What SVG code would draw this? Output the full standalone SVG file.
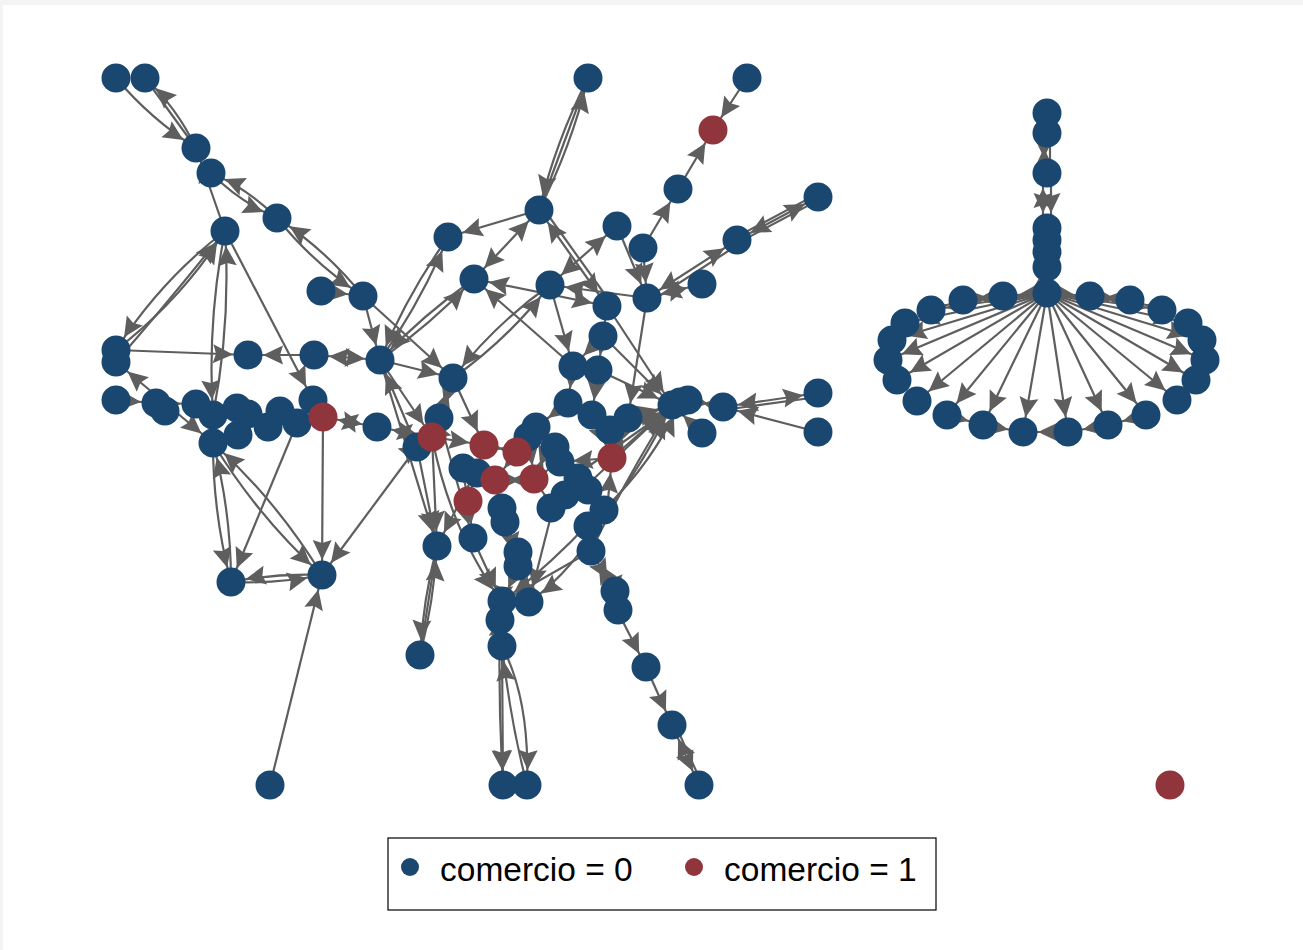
<svg xmlns="http://www.w3.org/2000/svg" width="1303" height="950" viewBox="0 0 1303 950">
<style>
.e,.d,.p{stroke:#5e5e5e;stroke-width:2.2;fill:none}
.e{marker-end:url(#ah)}
.d{marker-start:url(#ah);marker-end:url(#ah)}
.n0{fill:#1a476f}
.n1{fill:#90353b}
.lg{font-family:"Liberation Sans",Arial,sans-serif;font-size:33.5px;fill:#000}
</style>
<defs>
<marker id="ah" viewBox="-40 -12 42 24" refX="0" refY="0" markerWidth="42" markerHeight="24" markerUnits="userSpaceOnUse" orient="auto-start-reverse">
<path d="M-15,0 L-35,-9.5 L-32,0 L-35,9.5 Z" fill="#5e5e5e"/>
</marker>
</defs>
<rect x="0" y="0" width="1303" height="950" fill="#f4f4f4"/>
<rect x="3" y="5" width="1300" height="945" fill="#ffffff"/>

<!-- connectors -->
<g id="connectors">
<!-- west component -->
<path class="e" d="M116,78 Q150.7,119 196,148"/>
<path class="e" d="M196,148 Q177,108 145,78"/>
<line class="p" x1="145" y1="78" x2="196" y2="148"/>
<line class="e" x1="225" y1="231" x2="196" y2="148"/>
<path class="e" d="M211,173 Q239.5,202 277,218"/>
<path class="e" d="M277,218 Q248.5,189 211,173"/>
<path class="e" d="M277,218 Q314,264 363,296"/>
<path class="e" d="M363,296 Q326,250 277,218"/>
<line class="e" x1="321" y1="291" x2="363" y2="296"/>
<path class="e" d="M225,231 Q160,281 116,350"/>
<path class="e" d="M116,350 Q181,300 225,231"/>
<path class="e" d="M116,362 Q170,300 225,231"/>
<path class="e" d="M225,231 Q207,322 213,415"/>
<path class="e" d="M213,415 Q231,324 225,231"/>
<line class="e" x1="225" y1="231" x2="313" y2="400"/>
<line class="e" x1="116" y1="350" x2="248" y2="355"/>
<line class="e" x1="314" y1="355" x2="248" y2="355"/>
<line class="d" x1="314" y1="355" x2="380" y2="360"/>
<line class="e" x1="363" y1="296" x2="380" y2="360"/>
<line class="e" x1="363" y1="296" x2="453" y2="378"/>
<line class="e" x1="380" y1="360" x2="453" y2="378"/>
<line class="e" x1="116" y1="400" x2="156" y2="403"/>
<line class="e" x1="156" y1="403" x2="196" y2="404"/>
<line class="d" x1="116" y1="362" x2="213" y2="443"/>
<line class="d" x1="377" y1="427" x2="323" y2="417"/>
<line class="e" x1="323" y1="417" x2="322" y2="575"/>
<line class="e" x1="297" y1="423" x2="231" y2="582"/>
<path class="e" d="M213,443 Q213,514 231,582"/>
<path class="e" d="M231,582 Q231,511 213,443"/>
<path class="e" d="M213,443 Q258,517 322,575"/>
<path class="e" d="M322,575 Q277,501 213,443"/>
<path class="e" d="M231,582 Q277,584 322,575"/>
<path class="e" d="M322,575 Q276,573 231,582"/>
<line class="e" x1="417" y1="447" x2="322" y2="575"/>
<line class="e" x1="270" y1="785" x2="322" y2="575"/>
<line class="e" x1="417" y1="447" x2="380" y2="360"/>
<line class="d" x1="377" y1="427" x2="432" y2="437"/>
<line class="e" x1="380" y1="360" x2="432" y2="437"/>
<line class="e" x1="380" y1="360" x2="437" y2="546"/>
<path class="e" d="M380,360 Q421,302 448,237"/>
<path class="e" d="M448,237 Q407,295 380,360"/>
<path class="e" d="M380,360 Q431,324 474,279"/>
<path class="e" d="M474,279 Q423,315 380,360"/>

<!-- central component -->
<path class="e" d="M588,78 Q556,141 539,210"/>
<path class="e" d="M539,210 Q571,147 588,78"/>
<line class="p" x1="588" y1="78" x2="539" y2="210"/>
<line class="e" x1="747" y1="78" x2="713" y2="130"/>
<line class="e" x1="678" y1="189" x2="713" y2="130"/>
<line class="e" x1="643" y1="248" x2="678" y2="189"/>
<line class="e" x1="539" y1="210" x2="448" y2="237"/>
<line class="d" x1="539" y1="210" x2="474" y2="279"/>
<line class="d" x1="539" y1="210" x2="607" y2="306"/>
<line class="p" x1="543" y1="208" x2="611" y2="303"/>
<line class="d" x1="550" y1="285" x2="617" y2="226"/>
<line class="e" x1="647" y1="298" x2="550" y2="285"/>
<line class="e" x1="617" y1="226" x2="647" y2="298"/>
<line class="e" x1="643" y1="248" x2="647" y2="298"/>
<line class="d" x1="702" y1="284" x2="647" y2="298"/>
<line class="d" x1="737" y1="240" x2="647" y2="298"/>
<line class="p" x1="739" y1="244" x2="650" y2="302"/>
<line class="d" x1="737" y1="240" x2="818" y2="197"/>
<line class="p" x1="738.4" y1="242.6" x2="819.4" y2="199.6"/>
<line class="p" x1="735.6" y1="237.4" x2="816.6" y2="194.4"/>
<line class="d" x1="474" y1="279" x2="607" y2="306"/>
<line class="e" x1="573" y1="366" x2="474" y2="279"/>
<path class="e" d="M550,285 Q495,324 453,378"/>
<path class="e" d="M453,378 Q508,339 550,285"/>
<line class="e" x1="550" y1="285" x2="573" y2="366"/>
<line class="e" x1="607" y1="306" x2="603" y2="336"/>
<line class="e" x1="603" y1="336" x2="573" y2="366"/>
<line class="e" x1="603" y1="336" x2="598" y2="370"/>
<line class="e" x1="573" y1="366" x2="568" y2="403"/>
<line class="e" x1="598" y1="370" x2="592" y2="415"/>
<line class="e" x1="568" y1="403" x2="536" y2="427"/>
<line class="e" x1="592" y1="415" x2="612" y2="458"/>
<line class="d" x1="628" y1="418" x2="612" y2="458"/>
<line class="e" x1="647" y1="298" x2="628" y2="418"/>
<line class="e" x1="607" y1="306" x2="672" y2="405"/>
<line class="e" x1="603" y1="336" x2="672" y2="405"/>
<line class="e" x1="598" y1="370" x2="672" y2="405"/>
<line class="e" x1="628" y1="418" x2="672" y2="405"/>
<line class="e" x1="610" y1="428" x2="672" y2="405"/>
<line class="e" x1="612" y1="458" x2="672" y2="405"/>
<line class="e" x1="584" y1="488" x2="672" y2="405"/>
<line class="e" x1="572" y1="478" x2="680" y2="402"/>
<path class="e" d="M607,510 Q640,470 672,405"/>
<path class="e" d="M591,551 Q625,480 672,405"/>
<path class="e" d="M590,522 Q650,470 680,402"/>
<line class="d" x1="688" y1="400" x2="723" y2="407"/>
<line class="d" x1="723" y1="407" x2="818" y2="393"/>
<line class="p" x1="723" y1="410" x2="818" y2="397"/>
<line class="e" x1="818" y1="432" x2="723" y2="407"/>
<line class="e" x1="702" y1="433" x2="672" y2="405"/>
<line class="e" x1="453" y1="378" x2="439" y2="418"/>
<line class="e" x1="439" y1="418" x2="453" y2="378"/>
<line class="e" x1="453" y1="378" x2="484" y2="445"/>
<line class="d" x1="432" y1="437" x2="417" y2="447"/>
<line class="e" x1="432" y1="437" x2="484" y2="445"/>
<line class="d" x1="484" y1="445" x2="517" y2="452"/>
<line class="e" x1="517" y1="452" x2="495" y2="480"/>
<line class="d" x1="495" y1="480" x2="535" y2="480"/>
<line class="e" x1="484" y1="445" x2="468" y2="500"/>
<line class="e" x1="462" y1="467" x2="468" y2="500"/>
<line class="e" x1="536" y1="427" x2="517" y2="452"/>
<line class="e" x1="528" y1="440" x2="535" y2="480"/>
<line class="d" x1="535" y1="480" x2="548" y2="445"/>
<line class="e" x1="535" y1="480" x2="558" y2="462"/>
<line class="e" x1="612" y1="458" x2="558" y2="462"/>
<line class="e" x1="553" y1="508" x2="535" y2="480"/>
<line class="e" x1="607" y1="510" x2="612" y2="458"/>
<line class="e" x1="476" y1="471" x2="495" y2="480"/>
<line class="e" x1="500" y1="507" x2="495" y2="480"/>
<line class="e" x1="507" y1="520" x2="518" y2="567"/>
<line class="e" x1="500" y1="507" x2="517" y2="550"/>
<line class="e" x1="468" y1="500" x2="473" y2="539"/>
<line class="e" x1="476" y1="471" x2="437" y2="546"/>
<line class="e" x1="432" y1="437" x2="437" y2="546"/>
<line class="e" x1="417" y1="447" x2="437" y2="546"/>
<line class="e" x1="439" y1="418" x2="473" y2="539"/>
<path class="e" d="M432,437 Q450,530 502,602"/>
<line class="e" x1="473" y1="539" x2="502" y2="602"/>
<line class="e" x1="591" y1="551" x2="502" y2="602"/>
<path class="e" d="M590,522 Q550,565 502,602"/>
<path class="e" d="M607,510 Q575,570 529,602"/>
<line class="e" x1="553" y1="508" x2="529" y2="602"/>
<line class="e" x1="518" y1="567" x2="502" y2="602"/>
<line class="d" x1="502" y1="602" x2="500" y2="620"/>
<line class="e" x1="500" y1="620" x2="502" y2="646"/>
<path class="e" d="M437,546 Q423,600 420,655"/>
<path class="e" d="M420,655 Q434,601 437,546"/>
<line class="p" x1="437" y1="546" x2="420" y2="655"/>
<path class="e" d="M500,620 Q498,700 503,785"/>
<line class="e" x1="502" y1="646" x2="503" y2="785"/>
<path class="e" d="M502,646 Q530,700 527,785"/>
<path class="e" d="M527,785 Q510,720 502,646"/>
<line class="d" x1="591" y1="551" x2="615" y2="592"/>
<line class="e" x1="590" y1="522" x2="591" y2="551"/>
<line class="e" x1="584" y1="488" x2="607" y2="510"/>
<line class="e" x1="615" y1="592" x2="617" y2="610"/>
<line class="e" x1="617" y1="610" x2="646" y2="667"/>
<line class="e" x1="646" y1="667" x2="672" y2="725"/>
<line class="d" x1="672" y1="725" x2="699" y2="785"/>
<line class="p" x1="675" y1="724" x2="702" y2="784"/>

<!-- eastern star component -->
<line class="p" x1="1047" y1="113" x2="1047" y2="133"/>
<line class="d" x1="1044" y1="133" x2="1044" y2="173"/>
<line class="p" x1="1050" y1="133" x2="1050" y2="173"/>
<line class="d" x1="1043" y1="173" x2="1043" y2="228"/>
<line class="e" x1="1051" y1="173" x2="1051" y2="228"/>
<line class="p" x1="1047" y1="228" x2="1047" y2="252"/>
<line class="d" x1="1044" y1="252" x2="1044" y2="293"/>
<line class="e" x1="1050" y1="267" x2="1050" y2="293"/>
<line class="e" x1="1047" y1="293" x2="1003" y2="296"/>
<line class="e" x1="1047" y1="293" x2="963" y2="300"/>
<line class="e" x1="1047" y1="293" x2="931" y2="310"/>
<line class="e" x1="1047" y1="293" x2="905" y2="323"/>
<line class="e" x1="1047" y1="293" x2="892" y2="340"/>
<line class="e" x1="1047" y1="293" x2="888" y2="360"/>
<line class="e" x1="1047" y1="293" x2="897" y2="380"/>
<line class="e" x1="1047" y1="293" x2="917" y2="401"/>
<line class="e" x1="1047" y1="293" x2="947" y2="415"/>
<line class="e" x1="1047" y1="293" x2="983" y2="425"/>
<line class="e" x1="1047" y1="293" x2="1023" y2="432"/>
<line class="e" x1="1047" y1="293" x2="1068" y2="432"/>
<line class="e" x1="1047" y1="293" x2="1108" y2="425"/>
<line class="e" x1="1047" y1="293" x2="1146" y2="415"/>
<line class="e" x1="1047" y1="293" x2="1177" y2="400"/>
<line class="e" x1="1047" y1="293" x2="1196" y2="380"/>
<line class="e" x1="1047" y1="293" x2="1205" y2="360"/>
<line class="e" x1="1047" y1="293" x2="1202" y2="340"/>
<line class="e" x1="1047" y1="293" x2="1188" y2="323"/>
<line class="e" x1="1047" y1="293" x2="1162" y2="310"/>
<line class="e" x1="1047" y1="293" x2="1130" y2="300"/>
<line class="e" x1="1047" y1="293" x2="1090" y2="296"/>
<line class="e" x1="963" y1="300" x2="1003" y2="296"/>
<line class="e" x1="931" y1="310" x2="963" y2="300"/>
<line class="e" x1="1130" y1="300" x2="1090" y2="296"/>
<line class="e" x1="1162" y1="310" x2="1130" y2="300"/>
<line class="e" x1="983" y1="425" x2="1023" y2="432"/>
<line class="e" x1="1068" y1="432" x2="1023" y2="432"/>
<line class="e" x1="1108" y1="425" x2="1068" y2="432"/>
<line class="e" x1="947" y1="415" x2="983" y2="425"/>
<line class="e" x1="1146" y1="415" x2="1108" y2="425"/>
</g>

<!-- west component nodes -->
<g id="node-w01"><circle class="n0" cx="116" cy="78" r="14.5"/></g>
<g id="node-w02"><circle class="n0" cx="145" cy="78" r="14.5"/></g>
<g id="node-w03"><circle class="n0" cx="196" cy="148" r="14.5"/></g>
<g id="node-w04"><circle class="n0" cx="211" cy="173" r="14.5"/></g>
<g id="node-w05"><circle class="n0" cx="277" cy="218" r="14.5"/></g>
<g id="node-w06"><circle class="n0" cx="225" cy="231" r="14.5"/></g>
<g id="node-w07"><circle class="n0" cx="321" cy="291" r="14.5"/></g>
<g id="node-w08"><circle class="n0" cx="363" cy="296" r="14.5"/></g>
<g id="node-w09"><circle class="n0" cx="116" cy="350" r="14.5"/></g>
<g id="node-w10"><circle class="n0" cx="116" cy="362" r="14.5"/></g>
<g id="node-w11"><circle class="n0" cx="248" cy="355" r="14.5"/></g>
<g id="node-w12"><circle class="n0" cx="314" cy="355" r="14.5"/></g>
<g id="node-w13"><circle class="n0" cx="380" cy="360" r="14.5"/></g>
<g id="node-w14"><circle class="n0" cx="116" cy="400" r="14.5"/></g>
<g id="node-w15"><circle class="n0" cx="156" cy="403" r="14.5"/></g>
<g id="node-w16"><circle class="n0" cx="165" cy="411" r="14.5"/></g>
<g id="node-w17"><circle class="n0" cx="196" cy="404" r="14.5"/></g>
<g id="node-w18"><circle class="n0" cx="213" cy="415" r="14.5"/></g>
<g id="node-w19"><circle class="n0" cx="213" cy="443" r="14.5"/></g>
<g id="node-w20"><circle class="n0" cx="237" cy="408" r="14.5"/></g>
<g id="node-w21"><circle class="n0" cx="238" cy="435" r="14.5"/></g>
<g id="node-w22"><circle class="n0" cx="248" cy="414" r="14.5"/></g>
<g id="node-w23"><circle class="n0" cx="268" cy="427" r="14.5"/></g>
<g id="node-w24"><circle class="n0" cx="280" cy="411" r="14.5"/></g>
<g id="node-w25"><circle class="n0" cx="297" cy="423" r="14.5"/></g>
<g id="node-w26"><circle class="n0" cx="313" cy="400" r="14.5"/></g>
<g id="node-w27"><circle class="n1" cx="323" cy="417" r="14.5"/></g>
<g id="node-w28"><circle class="n0" cx="377" cy="427" r="14.5"/></g>
<g id="node-w29"><circle class="n0" cx="231" cy="582" r="14.5"/></g>
<g id="node-w30"><circle class="n0" cx="322" cy="575" r="14.5"/></g>
<g id="node-w31"><circle class="n0" cx="270" cy="785" r="14.5"/></g>

<!-- central component nodes -->
<g id="node-c01"><circle class="n0" cx="588" cy="78" r="14.5"/></g>
<g id="node-c02"><circle class="n1" cx="713" cy="130" r="14.5"/></g>
<g id="node-c03"><circle class="n0" cx="747" cy="78" r="14.5"/></g>
<g id="node-c04"><circle class="n0" cx="539" cy="210" r="14.5"/></g>
<g id="node-c05"><circle class="n0" cx="448" cy="237" r="14.5"/></g>
<g id="node-c06"><circle class="n0" cx="474" cy="279" r="14.5"/></g>
<g id="node-c07"><circle class="n0" cx="617" cy="226" r="14.5"/></g>
<g id="node-c08"><circle class="n0" cx="643" cy="248" r="14.5"/></g>
<g id="node-c09"><circle class="n0" cx="678" cy="189" r="14.5"/></g>
<g id="node-c10"><circle class="n0" cx="550" cy="285" r="14.5"/></g>
<g id="node-c11"><circle class="n0" cx="647" cy="298" r="14.5"/></g>
<g id="node-c12"><circle class="n0" cx="702" cy="284" r="14.5"/></g>
<g id="node-c13"><circle class="n0" cx="607" cy="306" r="14.5"/></g>
<g id="node-c14"><circle class="n0" cx="737" cy="240" r="14.5"/></g>
<g id="node-c15"><circle class="n0" cx="818" cy="197" r="14.5"/></g>
<g id="node-c16"><circle class="n0" cx="603" cy="336" r="14.5"/></g>
<g id="node-c17"><circle class="n0" cx="573" cy="366" r="14.5"/></g>
<g id="node-c18"><circle class="n0" cx="598" cy="370" r="14.5"/></g>
<g id="node-c19"><circle class="n0" cx="453" cy="378" r="14.5"/></g>
<g id="node-c20"><circle class="n0" cx="439" cy="418" r="14.5"/></g>
<g id="node-c21"><circle class="n0" cx="417" cy="447" r="14.5"/></g>
<g id="node-c22"><circle class="n1" cx="432" cy="437" r="14.5"/></g>
<g id="node-c23"><circle class="n0" cx="568" cy="403" r="14.5"/></g>
<g id="node-c24"><circle class="n0" cx="592" cy="415" r="14.5"/></g>
<g id="node-c25"><circle class="n0" cx="628" cy="418" r="14.5"/></g>
<g id="node-c26"><circle class="n0" cx="610" cy="430" r="14.5"/></g>
<g id="node-c27"><circle class="n0" cx="536" cy="427" r="14.5"/></g>
<g id="node-c28"><circle class="n0" cx="528" cy="437" r="14.5"/></g>
<g id="node-c29"><circle class="n0" cx="555" cy="447" r="14.5"/></g>
<g id="node-c30"><circle class="n0" cx="560" cy="462" r="14.5"/></g>
<g id="node-c31"><circle class="n0" cx="578" cy="478" r="14.5"/></g>
<g id="node-c32"><circle class="n0" cx="588" cy="490" r="14.5"/></g>
<g id="node-c33"><circle class="n0" cx="551" cy="508" r="14.5"/></g>
<g id="node-c34"><circle class="n0" cx="604" cy="510" r="14.5"/></g>
<g id="node-c35"><circle class="n0" cx="588" cy="526" r="14.5"/></g>
<g id="node-c70"><circle class="n0" cx="565" cy="495" r="14.5"/></g>
<g id="node-c36"><circle class="n0" cx="463" cy="468" r="14.5"/></g>
<g id="node-c37"><circle class="n0" cx="477" cy="473" r="14.5"/></g>
<g id="node-c38"><circle class="n0" cx="502" cy="508" r="14.5"/></g>
<g id="node-c39"><circle class="n0" cx="505" cy="522" r="14.5"/></g>
<g id="node-c40"><circle class="n1" cx="612" cy="458" r="14.5"/></g>
<g id="node-c41"><circle class="n1" cx="484" cy="445" r="14.5"/></g>
<g id="node-c42"><circle class="n1" cx="517" cy="452" r="14.5"/></g>
<g id="node-c43"><circle class="n1" cx="495" cy="480" r="14.5"/></g>
<g id="node-c44"><circle class="n1" cx="534" cy="479" r="14.5"/></g>
<g id="node-c45"><circle class="n1" cx="468" cy="501" r="14.5"/></g>
<g id="node-c46"><circle class="n0" cx="437" cy="546" r="14.5"/></g>
<g id="node-c47"><circle class="n0" cx="473" cy="538" r="14.5"/></g>
<g id="node-c48"><circle class="n0" cx="518" cy="552" r="14.5"/></g>
<g id="node-c49"><circle class="n0" cx="518" cy="566" r="14.5"/></g>
<g id="node-c50"><circle class="n0" cx="591" cy="551" r="14.5"/></g>
<g id="node-c51"><circle class="n0" cx="502" cy="601" r="14.5"/></g>
<g id="node-c52"><circle class="n0" cx="529" cy="602" r="14.5"/></g>
<g id="node-c53"><circle class="n0" cx="500" cy="620" r="14.5"/></g>
<g id="node-c54"><circle class="n0" cx="502" cy="646" r="14.5"/></g>
<g id="node-c55"><circle class="n0" cx="615" cy="591" r="14.5"/></g>
<g id="node-c56"><circle class="n0" cx="618" cy="610" r="14.5"/></g>
<g id="node-c57"><circle class="n0" cx="420" cy="655" r="14.5"/></g>
<g id="node-c58"><circle class="n0" cx="646" cy="667" r="14.5"/></g>
<g id="node-c59"><circle class="n0" cx="672" cy="725" r="14.5"/></g>
<g id="node-c60"><circle class="n0" cx="503" cy="785" r="14.5"/></g>
<g id="node-c61"><circle class="n0" cx="527" cy="785" r="14.5"/></g>
<g id="node-c62"><circle class="n0" cx="699" cy="785" r="14.5"/></g>
<g id="node-c63"><circle class="n0" cx="672" cy="405" r="14.5"/></g>
<g id="node-c64"><circle class="n0" cx="680" cy="402" r="14.5"/></g>
<g id="node-c65"><circle class="n0" cx="688" cy="400" r="14.5"/></g>
<g id="node-c66"><circle class="n0" cx="723" cy="407" r="14.5"/></g>
<g id="node-c67"><circle class="n0" cx="818" cy="393" r="14.5"/></g>
<g id="node-c68"><circle class="n0" cx="818" cy="432" r="14.5"/></g>
<g id="node-c69"><circle class="n0" cx="702" cy="433" r="14.5"/></g>

<!-- eastern star nodes -->
<g id="node-e01"><circle class="n0" cx="1047" cy="113" r="14.5"/></g>
<g id="node-e02"><circle class="n0" cx="1047" cy="133" r="14.5"/></g>
<g id="node-e03"><circle class="n0" cx="1047" cy="173" r="14.5"/></g>
<g id="node-e04"><circle class="n0" cx="1047" cy="228" r="14.5"/></g>
<g id="node-e05"><circle class="n0" cx="1047" cy="240" r="14.5"/></g>
<g id="node-e06"><circle class="n0" cx="1047" cy="252" r="14.5"/></g>
<g id="node-e07"><circle class="n0" cx="1047" cy="267" r="14.5"/></g>
<g id="node-e08"><circle class="n0" cx="1003" cy="296" r="14.5"/></g>
<g id="node-e09"><circle class="n0" cx="963" cy="300" r="14.5"/></g>
<g id="node-e10"><circle class="n0" cx="931" cy="310" r="14.5"/></g>
<g id="node-e11"><circle class="n0" cx="905" cy="323" r="14.5"/></g>
<g id="node-e12"><circle class="n0" cx="892" cy="340" r="14.5"/></g>
<g id="node-e13"><circle class="n0" cx="888" cy="360" r="14.5"/></g>
<g id="node-e14"><circle class="n0" cx="897" cy="380" r="14.5"/></g>
<g id="node-e15"><circle class="n0" cx="917" cy="401" r="14.5"/></g>
<g id="node-e16"><circle class="n0" cx="947" cy="415" r="14.5"/></g>
<g id="node-e17"><circle class="n0" cx="983" cy="425" r="14.5"/></g>
<g id="node-e18"><circle class="n0" cx="1023" cy="432" r="14.5"/></g>
<g id="node-e19"><circle class="n0" cx="1068" cy="432" r="14.5"/></g>
<g id="node-e20"><circle class="n0" cx="1108" cy="425" r="14.5"/></g>
<g id="node-e21"><circle class="n0" cx="1146" cy="415" r="14.5"/></g>
<g id="node-e22"><circle class="n0" cx="1177" cy="400" r="14.5"/></g>
<g id="node-e23"><circle class="n0" cx="1196" cy="380" r="14.5"/></g>
<g id="node-e24"><circle class="n0" cx="1205" cy="360" r="14.5"/></g>
<g id="node-e25"><circle class="n0" cx="1202" cy="340" r="14.5"/></g>
<g id="node-e26"><circle class="n0" cx="1188" cy="323" r="14.5"/></g>
<g id="node-e27"><circle class="n0" cx="1162" cy="310" r="14.5"/></g>
<g id="node-e28"><circle class="n0" cx="1130" cy="300" r="14.5"/></g>
<g id="node-e29"><circle class="n0" cx="1090" cy="296" r="14.5"/></g>
<g id="node-e30"><circle class="n0" cx="1047" cy="293" r="14.5"/></g>

<!-- isolate -->
<g id="node-iso"><circle class="n1" cx="1170" cy="785" r="14.5"/></g>

<!-- legend -->
<g id="legend">
<rect x="388" y="838" width="548" height="72" fill="#ffffff" stroke="#000" stroke-width="1.2"/>
<circle class="n0" cx="410" cy="867" r="9"/>
<text class="lg" x="440" y="881">comercio = 0</text>
<circle class="n1" cx="694" cy="867" r="9"/>
<text class="lg" x="724" y="881">comercio = 1</text>
</g>
</svg>
